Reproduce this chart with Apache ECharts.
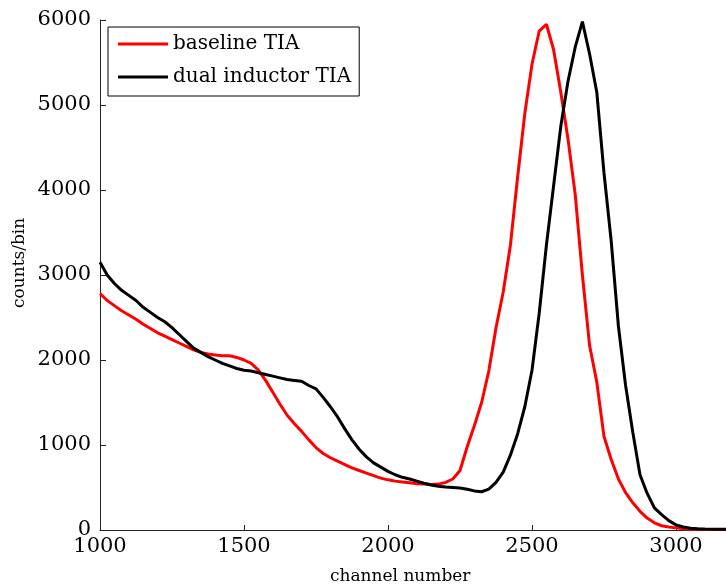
<!DOCTYPE html>
<html>
<head>
<meta charset="utf-8">
<script src="https://cdn.jsdelivr.net/npm/echarts@6/dist/echarts.min.js"></script>
<style>
  html, body { margin: 0; padding: 0; background: #fff; }
  #chart { width: 726px; height: 588px; }
</style>
</head>
<body>
<div id="chart"></div>
<script>
// channel numbers (every 25 channels)
const channels = [];
for (let c = 1000; c <= 3500; c += 25) channels.push(c);

// counts/bin
const baseline = [
  2780, 2700, 2640, 2580, 2530, 2480, 2420, 2370, 2320, 2280,
  2240, 2200, 2160, 2120, 2090, 2070, 2060, 2050, 2050, 2030,
  2000, 1960, 1880, 1760, 1620, 1480, 1350, 1250, 1160, 1060,
  970, 900, 850, 810, 770, 730, 700, 670, 640, 610,
  590, 575, 565, 555, 545, 540, 535, 540, 560, 600,
  700, 980, 1230, 1500, 1870, 2380, 2800, 3350, 4150, 4900,
  5480, 5870, 5950, 5650, 5150, 4600, 3950, 3000, 2170, 1740,
  1100, 830, 600, 440, 320, 220, 140, 85, 50, 35,
  25, 15, 10, 8, 5, 5, 5, 5, 4, 4,
  3, 3, 3, 2, 2, 2, 2, 2, 2, 2,
  2
];
const dualInductor = [
  3150, 3000, 2900, 2820, 2760, 2700, 2620, 2560, 2500, 2450,
  2380, 2300, 2220, 2140, 2090, 2040, 2000, 1960, 1930, 1900,
  1880, 1870, 1850, 1830, 1810, 1790, 1770, 1760, 1750, 1700,
  1660, 1560, 1450, 1330, 1190, 1060, 950, 860, 790, 740,
  690, 650, 620, 600, 575, 550, 530, 515, 505, 500,
  495, 480, 460, 450, 480, 560, 680, 880, 1130, 1450,
  1880, 2550, 3350, 4050, 4750, 5280, 5680, 5980, 5600, 5150,
  4200, 3400, 2400, 1700, 1150, 650, 430, 260, 180, 110,
  60, 35, 20, 15, 12, 10, 10, 10, 8, 8,
  6, 6, 5, 5, 4, 4, 4, 3, 3, 3,
  3
];

const serif = 'DejaVu Serif';

const option = {
  animation: false,
  backgroundColor: '#fff',
  // plot runs past the right edge of the picture, like the cropped original
  grid: { left: 100, top: 20, width: 720, height: 510, outerBoundsMode: 'none', containLabel: false },
  legend: {
    orient: 'vertical',
    left: 108,
    top: 27,
    padding: [6, 8, 8, 10],
    itemGap: 11,
    itemWidth: 50,
    itemHeight: 3,
    icon: 'rect',
    borderColor: '#000',
    borderWidth: 1,
    textStyle: { fontFamily: serif, fontSize: 20, color: '#000', lineHeight: 22 },
    data: ['baseline TIA', 'dual inductor TIA']
  },
  xAxis: {
    type: 'value',
    min: 1000,
    max: 3500,
    interval: 500,
    axisLine: { lineStyle: { color: '#222', width: 1 } },
    axisTick: { inside: true, length: 5, lineStyle: { color: '#222' } },
    axisLabel: { fontFamily: serif, fontSize: 21, color: '#000', margin: 6, formatter: v => String(v) },
    splitLine: { show: false }
  },
  yAxis: {
    type: 'value',
    min: 0,
    max: 6000,
    interval: 1000,
    axisLine: { show: true, lineStyle: { color: '#222', width: 1 } },
    axisTick: { show: true, inside: true, length: 6, lineStyle: { color: '#222' } },
    axisLabel: { fontFamily: serif, fontSize: 21, color: '#000', margin: 9, formatter: v => String(v) },
    splitLine: { show: false }
  },
  graphic: [
    {
      type: 'text',
      left: 330,
      top: 568,
      style: { text: 'channel number', font: '17px "DejaVu Serif"', fill: '#000' }
    },
    {
      type: 'text',
      x: 11,
      y: 308,
      rotation: Math.PI / 2,
      style: { text: 'counts/bin', font: '17px "DejaVu Serif"', fill: '#000' }
    }
  ],
  series: [
    {
      name: 'baseline TIA',
      type: 'line',
      showSymbol: false,
      color: '#ff0000',
      lineStyle: { width: 3, color: '#ff0000' },
      data: channels.map((c, i) => [c, baseline[i]])
    },
    {
      name: 'dual inductor TIA',
      type: 'line',
      showSymbol: false,
      color: '#000000',
      lineStyle: { width: 3, color: '#000000' },
      data: channels.map((c, i) => [c, dualInductor[i]])
    }
  ]
};

const chart = echarts.init(document.getElementById('chart'));
chart.setOption(option);
window.onresize = function () {
  chart.resize();
};
</script>
</body>
</html>
